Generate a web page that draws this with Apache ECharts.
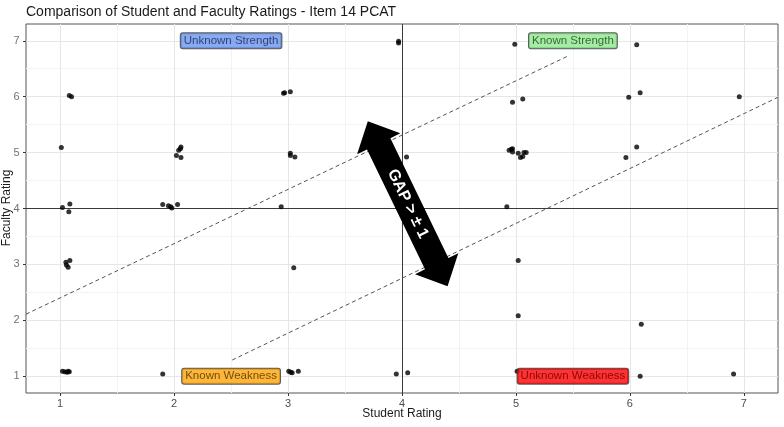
<!DOCTYPE html>
<html>
<head>
<meta charset="utf-8">
<script src="https://cdn.jsdelivr.net/npm/echarts@6/dist/echarts.min.js"></script>
<style>
html,body{margin:0;padding:0;background:#fff;}
#chart{width:784px;height:427px;}
</style>
</head>
<body>
<div id="chart"></div>
<script>
// ---- data ----
const titleText = 'Comparison of Student and Faculty Ratings - Item 14 PCAT';
const xAxisName = 'Student Rating';
const yAxisName = 'Faculty Rating';
const xTicks = [1, 2, 3, 4, 5, 6, 7];
const yTicks = [1, 2, 3, 4, 5, 6, 7];
const xMinor = [1.5, 2.5, 3.5, 4.5, 5.5, 6.5];
const yMinor = [1.5, 2.5, 3.5, 4.5, 5.5, 6.5];
const xRange = [0.7, 7.3];
const yRange = [0.7, 7.3];
const refX = 4;
const refY = 4;

// jittered ratings (student, faculty)
const studentRating = [
  1.08, 1.10, 1.01, 1.02, 1.085, 1.076,
  1.05, 1.055, 1.07, 1.085,
  1.02, 1.04, 1.06, 1.07, 1.08,
  1.90, 1.95, 1.97, 1.98, 2.03,
  2.02, 2.04, 2.055, 2.06, 2.06,
  1.90,
  2.96, 2.97, 3.02,
  3.02, 3.02, 3.06,
  2.94, 3.05,
  3.006, 3.024, 3.036, 3.09,
  3.97, 3.97,
  3.95, 4.05, 4.04,
  4.99, 4.97, 5.06,
  4.94, 4.96, 4.97, 4.97, 5.02, 5.04, 5.06, 5.07, 5.09,
  4.92, 5.02, 5.02, 5.01,
  6.06, 5.99, 6.09, 6.96,
  5.965, 6.06,
  6.10, 6.09, 6.91
];
const facultyRating = [
  6.02, 6.00, 5.09, 4.02, 4.08, 3.94,
  3.04, 2.99, 2.95, 3.07,
  1.09, 1.08, 1.07, 1.09, 1.08,
  4.07, 4.05, 4.03, 4.01, 4.07,
  4.95, 5.04, 5.07, 5.10, 4.91,
  1.04,
  6.06, 6.07, 6.09,
  4.99, 4.95, 4.92,
  4.03, 2.94,
  1.09, 1.07, 1.06, 1.09,
  6.99, 6.96,
  1.04, 1.06, 4.92,
  6.94, 5.90, 5.96,
  5.04, 5.06, 5.07, 5.01, 4.99, 4.91, 4.93, 5.00, 5.00,
  4.03, 3.07, 2.08, 1.09,
  6.93, 5.99, 6.07, 6.00,
  4.91, 5.10,
  1.93, 1.00, 1.04
];

// dashed gap lines (endpoints in data units)
const gapLineUpperX = [0.7, 5.46];
const gapLineUpperY = [2.11, 6.73];
const gapLineLowerX = [2.51, 7.3];
const gapLineLowerY = [1.29, 5.99];

// quadrant labels
const quadText = ['Unknown Strength', 'Known Strength', 'Known Weakness', 'Unknown Weakness'];
const quadX = [2.5, 5.5, 2.5, 5.5];
const quadY = [7, 7, 1, 1];
const quadFill = ['#6a95ec', '#8fe88f', '#ffa50a', '#ff0000'];
const quadInk = ['#1b2656', '#1d4a1d', '#4f3300', '#6a0000'];

// gap arrow (ends in data units)
const arrowX = [3.70, 4.40];
const arrowY = [5.56, 2.61];
const arrowText = 'GAP > \u00b1 1';

// ---- chart ----
const FONT = '"Liberation Sans", Arial, sans-serif';
const chart = echarts.init(document.getElementById('chart'), null, {renderer: 'canvas'});

const points = studentRating.map((x, i) => [x, facultyRating[i]]);

function gridLines(vals, dim, color, width) {
  return vals.map(v => ({[dim]: v, lineStyle: {color: color, width: width, type: 'solid'}}));
}

const option = {
  animation: false,
  backgroundColor: '#ffffff',
  title: {
    text: titleText,
    left: 26, top: 5, padding: 0,
    textStyle: {fontFamily: FONT, fontSize: 14, fontWeight: 'normal', color: '#1a1a1a'}
  },
  graphic: [
    {
      type: 'text', x: 7, y: 208, rotation: Math.PI / 2, silent: true, z: 10,
      style: {
        text: yAxisName, fill: '#1a1a1a', font: '12px ' + FONT,
        align: 'center', verticalAlign: 'middle'
      }
    }
  ],
  grid: {
    left: 26, right: 6, top: 24, bottom: 34,
    outerBoundsMode: 'none', containLabel: false,
    show: true, borderColor: '#555', borderWidth: 1, backgroundColor: '#fff'
  },
  xAxis: {
    type: 'value', min: xRange[0], max: xRange[1],
    name: xAxisName, nameLocation: 'middle', nameGap: 15, nameMoveOverlap: false,
    nameTextStyle: {fontFamily: FONT, fontSize: 12, color: '#1a1a1a'},
    axisLine: {show: false, onZero: false},
    axisTick: {show: true, customValues: xTicks, length: 3, lineStyle: {color: '#333'}},
    axisLabel: {customValues: xTicks, color: '#4d4d4d', fontFamily: FONT, fontSize: 11, margin: 5, hideOverlap: false},
    splitLine: {show: false}
  },
  yAxis: {
    type: 'value', min: yRange[0], max: yRange[1],
    axisLine: {show: false, onZero: false},
    axisTick: {show: true, customValues: yTicks, length: 3, lineStyle: {color: '#333'}},
    axisLabel: {show: false},
    splitLine: {show: false}
  },
  series: [
    {
      type: 'line', data: [], z: 1, silent: true,
      markLine: {
        z: 1,
        silent: true, symbol: ['none', 'none'], label: {show: false},
        animation: false,
        data: []
          .concat(gridLines(xMinor, 'xAxis', '#f3f3f3', 1))
          .concat(gridLines(yMinor, 'yAxis', '#f3f3f3', 1))
          .concat(gridLines(xTicks, 'xAxis', '#e6e6e6', 1))
          .concat(gridLines(yTicks, 'yAxis', '#e6e6e6', 1))
      }
    },
    {
      type: 'line', data: [], z: 2, silent: true,
      markLine: {
        z: 2,
        silent: true, symbol: ['none', 'none'], label: {show: false},
        animation: false,
        data: [
          {xAxis: refX, lineStyle: {color: '#3a3a3a', width: 1, type: 'solid'}},
          {yAxis: refY, lineStyle: {color: '#3a3a3a', width: 1, type: 'solid'}}
        ]
      }
    },
    {
      // y tick labels, placed through the y scale at the left edge of the panel
      type: 'scatter', z: 2, silent: true, clip: false,
      symbol: 'rect', symbolSize: 1, itemStyle: {color: 'rgba(0,0,0,0)'},
      data: yTicks.map(v => [xRange[0], v]),
      label: {
        show: true, position: 'left', distance: 6,
        formatter: p => String(p.value[1]),
        color: '#4d4d4d', fontFamily: FONT, fontSize: 11
      },
      labelLayout: {hideOverlap: false}
    },
    {
      type: 'line', z: 3, silent: true, symbol: 'none',
      data: gapLineUpperX.map((x, i) => [x, gapLineUpperY[i]]),
      lineStyle: {color: '#555', width: 1, type: [4, 3]}
    },
    {
      type: 'line', z: 3, silent: true, symbol: 'none',
      data: gapLineLowerX.map((x, i) => [x, gapLineLowerY[i]]),
      lineStyle: {color: '#555', width: 1, type: [4, 3]}
    },
    {
      type: 'scatter', z: 4, symbol: 'circle', symbolSize: 5,
      data: points,
      itemStyle: {color: '#000'}
    },
    {
      type: 'scatter', z: 5, symbol: 'rect', symbolSize: 1, silent: true,
      itemStyle: {color: 'rgba(0,0,0,0)'},
      data: quadText.map((t, i) => ({
        value: [quadX[i], quadY[i]], name: t,
        label: {backgroundColor: quadFill[i], color: quadInk[i]}
      })),
      label: {
        show: true, position: 'inside', formatter: p => p.name,
        fontFamily: FONT, fontSize: 11.5,
        borderColor: '#333', borderWidth: 1, borderRadius: 2,
        padding: [2, 3, 1, 3]
      }
    },
    {
      type: 'custom', z: 6, silent: true, clip: false,
      data: [[arrowX[0], arrowY[0], arrowX[1], arrowY[1]]],
      renderItem: function (params, api) {
        const p1 = api.coord([api.value(0), api.value(1)]);
        const p2 = api.coord([api.value(2), api.value(3)]);
        const dx = p2[0] - p1[0], dy = p2[1] - p1[1];
        const L = Math.sqrt(dx * dx + dy * dy);
        const ux = dx / L, uy = dy / L;
        const nx = -uy, ny = ux;
        const H = 25, W = 24, S = 13;
        const b1 = [p1[0] + ux * H, p1[1] + uy * H];
        const b2 = [p2[0] - ux * H, p2[1] - uy * H];
        const pt = (b, s) => [b[0] + nx * s, b[1] + ny * s];
        const poly = [
          p1, pt(b1, W), pt(b1, S), pt(b2, S), pt(b2, W), p2,
          pt(b2, -W), pt(b2, -S), pt(b1, -S), pt(b1, -W)
        ];
        const ang = Math.atan2(dy, dx);
        return {
          type: 'group',
          children: [
            {type: 'polygon', shape: {points: poly}, style: {fill: '#000'}},
            {
              type: 'text', x: (p1[0] + p2[0]) / 2, y: (p1[1] + p2[1]) / 2,
              rotation: -ang,
              style: {
                x: 0, y: 0, text: arrowText, fill: '#fff',
                font: 'bold 16px ' + FONT, align: 'center', verticalAlign: 'middle'
              }
            }
          ]
        };
      }
    }
  ]
};
chart.setOption(option);
</script>
</body>
</html>
